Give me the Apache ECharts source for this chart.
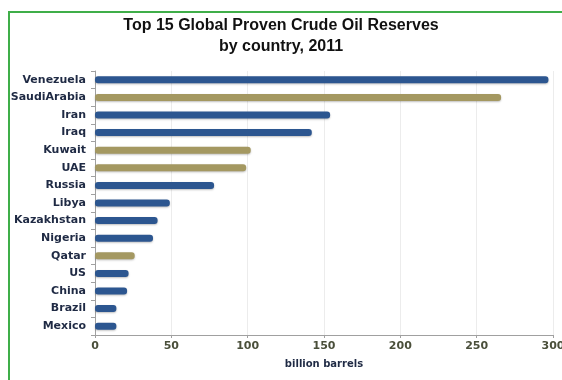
<!DOCTYPE html>
<html>
<head>
<meta charset="utf-8">
<script src="https://cdn.jsdelivr.net/npm/echarts@6/dist/echarts.min.js"></script>
<style>
  html, body { margin: 0; padding: 0; background: #fff; }
  #frame {
    position: absolute; left: 8px; top: 11px; width: 560px; height: 380px;
    border-left: 2px solid #3fae49; border-top: 2px solid #3fae49;
  }
  #chart { position: absolute; left: 0; top: 0; width: 562px; height: 380px; }
</style>
</head>
<body>
<div id="frame"></div>
<div id="chart"></div>
<script>
// data (billion barrels)
const countries = ["Venezuela", "SaudiArabia", "Iran", "Iraq", "Kuwait", "UAE", "Russia",
  "Libya", "Kazakhstan", "Nigeria", "Qatar", "US", "China", "Brazil", "Mexico"];
const reserves = [297, 266, 154, 142, 102, 99, 78, 49, 41, 38, 26, 22, 21, 14, 14];
// countries drawn in the gold colour
const goldCountries = ["SaudiArabia", "Kuwait", "UAE", "Qatar"];
const xTicks = [0, 50, 100, 150, 200, 250, 300];

const blue = '#2c5690';
const gold = '#a49861';

const chart = echarts.init(document.getElementById('chart'));

chart.setOption({
  animation: false,
  title: {
    text: 'Top 15 Global Proven Crude Oil Reserves\nby country, 2011',
    left: 'center',
    top: 10,
    textStyle: {
      fontFamily: 'Liberation Sans',
      fontSize: 16,
      fontWeight: 'bold',
      color: '#111',
      lineHeight: 21
    }
  },
  grid: {
    left: 95,
    right: 9,
    top: 71,
    bottom: 380 - 335,
    outerBoundsMode: 'none'
  },
  xAxis: {
    type: 'value',
    min: xTicks[0],
    max: xTicks[xTicks.length - 1],
    interval: 50,
    name: 'billion barrels',
    nameLocation: 'middle',
    nameGap: 24,
    nameTextStyle: {
      fontFamily: 'DejaVu Sans',
      fontSize: 10,
      fontWeight: 'bold',
      color: '#1f2a44'
    },
    axisLine: { show: true, lineStyle: { color: '#a0a0a0' } },
    axisTick: { show: true, length: 3, lineStyle: { color: '#a0a0a0' } },
    axisLabel: {
      fontFamily: 'DejaVu Sans',
      fontSize: 11,
      fontWeight: 'bold',
      color: '#4a4f3a',
      margin: 6
    },
    splitLine: { show: true, lineStyle: { color: '#ececec' } }
  },
  yAxis: {
    type: 'category',
    inverse: true,
    data: countries,
    axisLine: { show: true, lineStyle: { color: '#a0a0a0' } },
    axisTick: { show: true, length: 4, lineStyle: { color: '#a0a0a0' } },
    axisLabel: {
      fontFamily: 'DejaVu Sans',
      fontSize: 11,
      fontWeight: 'bold',
      color: '#1f2a44',
      margin: 9
    }
  },
  series: [
    {
      type: 'bar',
      barWidth: 7,
      data: reserves.map((v, i) => ({
        value: v,
        itemStyle: { color: goldCountries.includes(countries[i]) ? gold : blue }
      })),
      itemStyle: {
        borderRadius: 3,
        shadowColor: 'rgba(0,0,0,0.25)',
        shadowBlur: 2,
        shadowOffsetY: 1
      }
    }
  ]
});
</script>
</body>
</html>
